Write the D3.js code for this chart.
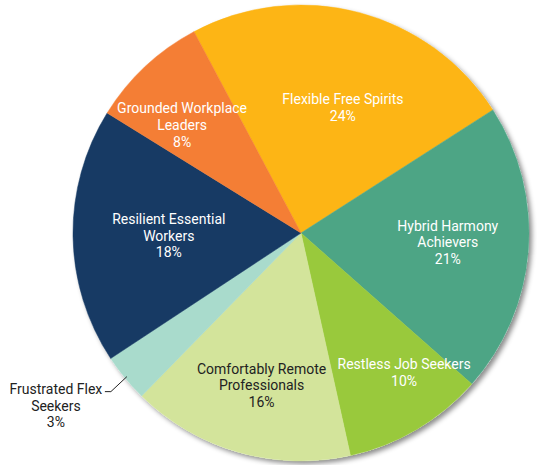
<!DOCTYPE html>
<html>
<head>
<meta charset="utf-8">
<script src="https://cdn.jsdelivr.net/npm/d3@7"></script>
<style>
  html, body { margin: 0; padding: 0; background: #fff; }
  svg text { font-family: Roboto, "Noto Sans", sans-serif; font-size: 14px; }
</style>
</head>
<body>
<div id="chart"></div>
<script>
// segments, clockwise starting from the Flexible Free Spirits slice
const segments = ["Flexible Free Spirits", "Hybrid Harmony Achievers", "Restless Job Seekers",
  "Comfortably Remote Professionals", "Frustrated Flex Seekers", "Resilient Essential Workers",
  "Grounded Workplace Leaders"];
// slice sizes (labels show them rounded)
const shares = [23.7, 20.6, 10.0, 15.8, 3.4, 18.1, 8.4];
const labelLines = [
  ["Flexible Free Spirits"],
  ["Hybrid Harmony", "Achievers"],
  ["Restless Job Seekers"],
  ["Comfortably Remote", "Professionals"],
  ["Frustrated Flex", "Seekers"],
  ["Resilient Essential", "Workers"],
  ["Grounded Workplace", "Leaders"]
];

const colors = ["#fdb515", "#4da585", "#99c93c", "#d3e49b", "#a9dbcc", "#173a64", "#f47e35"];
const textColors = ["#fff", "#fff", "#fff", "#222", "#222", "#fff", "#fff"];
// label placement: fraction of radius, and nudge in degrees from the slice middle
const labelRadius = [0.58, 0.645, 0.76, 0.69, 0, 0.58, 0.705];
const labelNudge = [3.8, -0.8, -6, -1.4, 0, -0.3, -4.6];

const W = 537, H = 465;
const cx = 301, cy = 233, r = 228;

const svg = d3.select("#chart")
  .append("svg")
    .attr("width", W)
    .attr("height", H);

const defs = svg.append("defs");
const shadow = defs.append("filter")
  .attr("id", "shadow")
  .attr("x", "-10%").attr("y", "-10%")
  .attr("width", "120%").attr("height", "120%");
shadow.append("feDropShadow")
  .attr("dx", 3).attr("dy", 3)
  .attr("stdDeviation", 2.5)
  .attr("flood-color", "#000")
  .attr("flood-opacity", 0.45);

const g = svg.append("g")
  .attr("transform", `translate(${cx}, ${cy})`);

const data = segments.map((name, i) => ({ name, value: shares[i], i }));

const startAngle = -28 * Math.PI / 180;
const pie = d3.pie()
  .value(d => d.value)
  .sort(null)
  .startAngle(startAngle)
  .endAngle(startAngle + 2 * Math.PI);

const arcs = pie(data);
const arc = d3.arc().innerRadius(0).outerRadius(r);

// shadow disc under the slices
g.append("circle")
  .attr("r", r)
  .style("fill", "#fff")
  .attr("filter", "url(#shadow)");

g.selectAll(".slice")
  .data(arcs)
  .enter().append("path")
  .attr("class", "slice")
  .attr("d", arc)
  .style("fill", d => colors[d.data.i])
  .style("stroke", d => colors[d.data.i])
  .style("stroke-width", 0.5);

const lineH = 16.7;

function drawLabel(x, y, i) {
  const lines = labelLines[i].concat([Math.round(shares[i]) + "%"]);
  const t = g.append("text")
    .attr("text-anchor", "middle")
    .style("fill", textColors[i]);
  const y0 = y - (lines.length - 1) * lineH / 2 + 5;
  lines.forEach((s, k) => {
    t.append("tspan")
      .attr("x", x)
      .attr("y", y0 + k * lineH)
      .text(s);
  });
}

arcs.forEach(d => {
  const i = d.data.i;
  const mid = (d.startAngle + d.endAngle) / 2;
  if (labelRadius[i] > 0) {
    const rr = r * labelRadius[i];
    const a = mid + labelNudge[i] * Math.PI / 180;
    drawLabel(Math.sin(a) * rr, -Math.cos(a) * rr, i);
  } else {
    // small slice: label outside with a leader line
    const p0 = [Math.sin(mid) * r * 0.99, -Math.cos(mid) * r * 0.99];
    const p1 = [p0[0] - 16, p0[1] + 15];
    const p2 = [p1[0] - 6, p1[1]];
    g.append("polyline")
      .attr("points", [p0, p1, p2].map(p => p.join(",")).join(" "))
      .style("fill", "none")
      .style("stroke", "#222")
      .style("stroke-width", 1);
    drawLabel(p2[0] - 49, p2[1] + 14, i);
  }
});
</script>
</body>
</html>
